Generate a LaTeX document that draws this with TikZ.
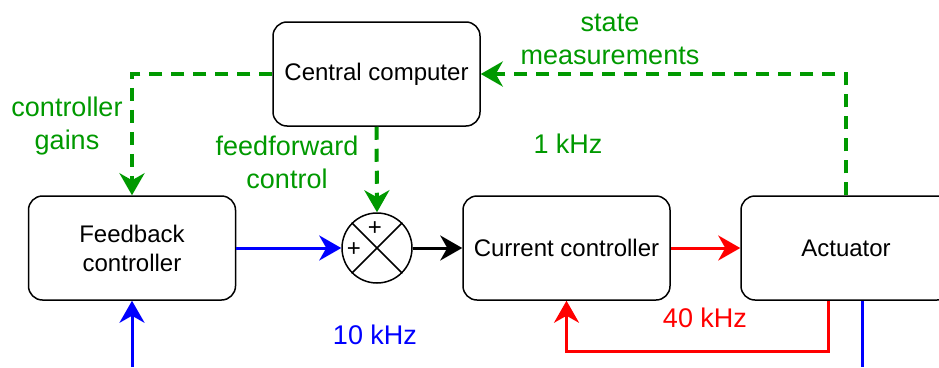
\documentclass[tikz,border=0pt]{standalone}
\usepackage{fontspec}
\setmainfont{Liberation Sans}
\usetikzlibrary{arrows.meta}
\definecolor{ggreen}{RGB}{0,153,0}
\definecolor{bblue}{RGB}{0,0,255}
\definecolor{rred}{RGB}{255,0,0}
\begin{document}
\begin{tikzpicture}[x=1pt,y=-1pt,
  box/.style={draw, line width=1.5pt, rounded corners=14pt, minimum width=207pt, minimum height=104pt, align=center, inner sep=0pt, font=\fontsize{24}{29}\selectfont},
  lbl/.style={font=\fontsize{27}{33}\selectfont, align=center, inner sep=0pt},
  tipa/.style={-{Stealth[length=22pt,width=25pt,inset=7pt]}},
  gline/.style={ggreen, line width=4pt, dash pattern=on 13pt off 9pt, tipa},
  bline/.style={bblue, line width=3pt, tipa},
  rline/.style={rred, line width=3pt, tipa},
  kline/.style={black, line width=3pt, tipa},
  plus/.style={inner sep=0pt, font=\fontsize{24}{29}\selectfont}
]
\useasboundingbox (0,0) rectangle (939,367);
\clip (0,0) rectangle (939,367);
% blocks
\node[box] (cc) at (376.5,74) {Central computer};
\node[box] (fb) at (132,248) {Feedback\\controller};
\node[box] (cur) at (566.5,248) {Current controller};
\node[box, minimum width=210pt] (act) at (846,248) {Actuator};
\node[circle, draw, line width=1.5pt, minimum size=70pt, inner sep=0pt] (sum) at (377,248) {};
\draw[line width=1.5pt] (sum.north west) -- (sum.south east);
\draw[line width=1.5pt] (sum.north east) -- (sum.south west);
\node[plus] (p1) at (375,229) {+};
\node[plus] (p2) at (354,250) {+};
% green dashed connectors
\draw[gline] (cc.west) -| (fb.north);
\draw[gline] (cc.south) -- (sum.north);
\draw[gline] (act.north) |- (cc.east);
% blue
\coordinate (bin) at (132,367);
\coordinate (bout) at (862,367);
\draw[bline] (fb.east) -- (sum.west);
\draw[bline] (bin) -- (fb.south);
\draw[bblue, line width=3pt] ([xshift=16pt]act.south) -- (bout);
% black
\draw[kline] (sum.east) -- (cur.west);
% red
\draw[rline] (cur.east) -- (act.west);
\draw[rline] ([xshift=-18pt]act.south) -- ++(0,51) -| (cur.south);
% labels
\node[lbl, ggreen] (lsm) at (610,39) {state\\measurements};
\node[lbl, ggreen] (lcg) at (67,126) {controller\\gains};
\node[lbl, ggreen] (lff) at (287,162) {feedforward\\control};
\node[lbl, ggreen, anchor=base] (l1k) at (568,153) {1 kHz};
\node[lbl, bblue, anchor=base] (l10k) at (375,344) {10 kHz};
\node[lbl, rred, anchor=base] (l40k) at (705,327) {40 kHz};
\end{tikzpicture}
\end{document}
